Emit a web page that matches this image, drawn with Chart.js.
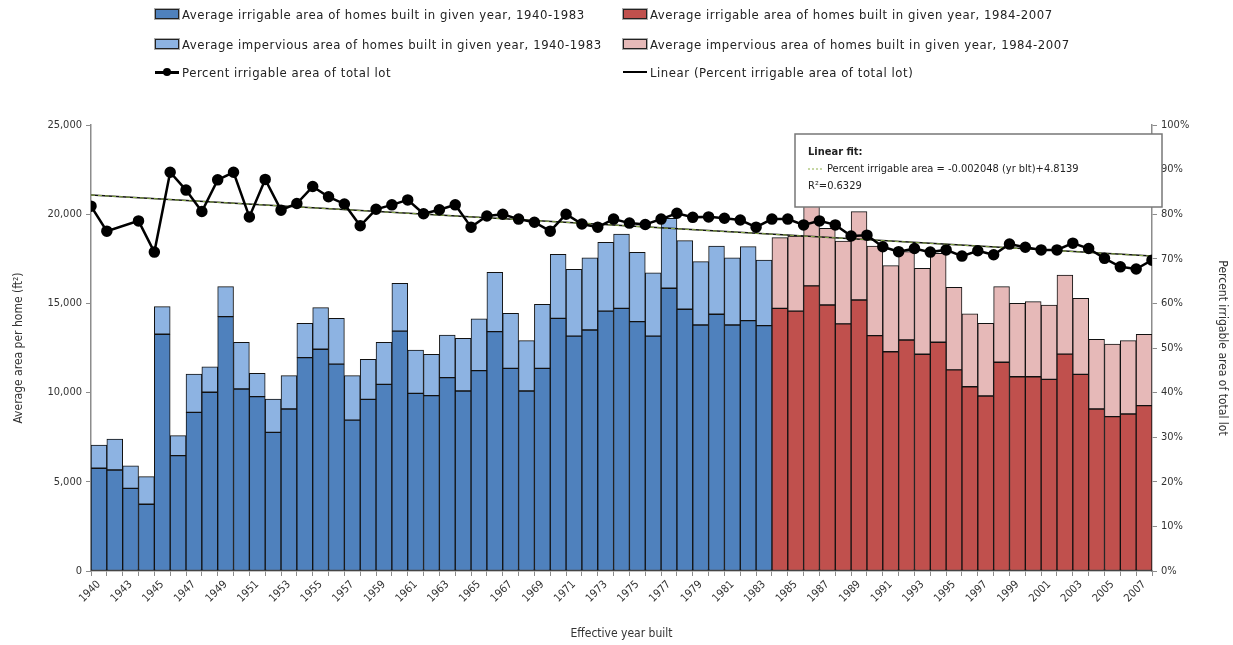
<!DOCTYPE html>
<html>
<head>
<meta charset="utf-8">
<script src="https://cdn.jsdelivr.net/npm/chart.js@4.4.1/dist/chart.umd.min.js"></script>
<style>
  html, body { margin: 0; padding: 0; background: #fff; }
  #wrap { position: relative; width: 1233px; height: 645px; }
  #legend { position: absolute; left: 0; top: 0; width: 1233px; height: 90px;
    font-family: 'Liberation Sans Narrow', 'DejaVu Sans Condensed', sans-serif; font-size: 13px;
    letter-spacing: 0.55px; color: #222; }
  .item { position: absolute; display: flex; align-items: center; white-space: nowrap; height: 16px; }
  .sw { width: 22px; height: 8px; border: 1px solid #222; box-shadow: 0 0 0 1px #aaa; margin-right: 3px; }
  .ln { position: relative; width: 24px; height: 10px; margin-right: 3px; }
  .ln i { position: absolute; left: 0; top: 4px; width: 24px; height: 2px; background: #000; }
  .ln b { position: absolute; left: 8px; top: 1px; width: 8px; height: 8px; border-radius: 50%; background: #000; }
</style>
</head>
<body>
<div id="wrap">
  <canvas id="chart" width="1233" height="645"></canvas>
  <div id="legend"></div>
</div>
<script>
// bar categories (one year absent from the survey data)
const barYears = ['1940','1941','1943','1944','1945','1946','1947','1948','1949','1950',
  '1951','1952','1953','1954','1955','1956','1957','1958','1959','1960',
  '1961','1962','1963','1964','1965','1966','1967','1968','1969','1970',
  '1971','1972','1973','1974','1975','1976','1977','1978','1979','1980',
  '1981','1982','1983',
  '1984','1985','1986','1987','1988','1989','1990','1991','1992','1993',
  '1994','1995','1996','1997','1998','1999','2000','2001','2002','2003',
  '2004','2005','2006','2007'];

// 1940-1983 (ft2)
const irrigableEarly = [5760,5660,4630,3740,13270,6470,8890,10020,14260,10200,
  9770,7770,9080,11960,12430,11600,8460,9620,10460,13450,
  9960,9830,10840,10090,11230,13420,11360,10090,11360,14160,
  13170,13510,14570,14720,13980,13170,15850,14670,13790,14390,
  13790,14030,13750];
const imperviousEarly = [1300,1740,1260,1550,1550,1120,2150,1430,1680,2620,
  1310,1870,1870,1920,2330,2560,2490,2250,2360,2680,
  2430,2320,2390,2950,2900,3320,3080,2820,3590,3590,
  3740,4050,3850,4170,3880,3550,3920,3850,3550,3830,
  3770,4150,3680];

// 1984-2007 (ft2)
const irrigableLate = [14720,14570,15980,14910,13850,15190,13190,12290,12950,12150,
  12820,11270,10330,9810,11700,10890,10890,10740,12160,11020,
  9080,8650,8800,9270];
const imperviousLate = [3970,4210,4920,4300,4650,4950,5030,4830,4950,4820,
  4990,4630,4080,4070,4240,4110,4210,4170,4430,4260,
  3910,4070,4110,4000];

// percent irrigable area of total lot, 1940..2007 (1942 missing)
const pctYears = [];
for (let y = 1940; y <= 2007; y++) pctYears.push(y);
const pctIrrigable = [81.8,76.2,null,78.5,71.5,89.4,85.4,80.6,87.7,89.4,
  79.4,87.8,80.9,82.4,86.2,83.9,82.3,77.4,81.1,82.1,
  83.2,80.1,81.0,82.1,77.1,79.6,80.0,78.9,78.2,76.2,
  80.0,77.8,77.1,78.9,78.0,77.7,78.9,80.2,79.3,79.4,
  79.1,78.7,77.1,78.9,78.9,77.6,78.5,77.6,75.1,75.3,
  72.7,71.6,72.3,71.5,72.0,70.6,71.8,70.9,73.3,72.6,
  72.0,72.0,73.5,72.3,70.1,68.2,67.7,69.7];

// linear fit end points (1940, 2007)
const trendYears = [1940, 2007];
const trendPct = [84.3, 70.6];

const nEarly = irrigableEarly.length;
const pad = (arr, before, total) => {
  const out = new Array(total).fill(null);
  arr.forEach((v, i) => { out[before + i] = v; });
  return out;
};
const N = barYears.length;

const colors = {
  blue: '#4F81BD', lightBlue: '#8DB3E2',
  red: '#C0504D', pink: '#E6B9B8',
  axis: '#8c8c8c', text: '#333', green: '#8DB04A'
};
const FONT = "'Liberation Sans Narrow', 'DejaVu Sans Condensed', sans-serif";

const labels = {
  irrE: 'Average irrigable area of homes built in given year, 1940-1983',
  irrL: 'Average irrigable area of homes built in given year, 1984-2007',
  impE: 'Average impervious area of homes built in given year, 1940-1983',
  impL: 'Average impervious area of homes built in given year, 1984-2007',
  pct: 'Percent irrigable area of total lot',
  lin: 'Linear (Percent irrigable area of total lot)'
};

// HTML legend, two columns
const legendItems = [
  { text: labels.irrE, kind: 'bar', color: colors.blue, x: 155, y: 6 },
  { text: labels.irrL, kind: 'bar', color: colors.red, x: 623, y: 6 },
  { text: labels.impE, kind: 'bar', color: colors.lightBlue, x: 155, y: 36 },
  { text: labels.impL, kind: 'bar', color: colors.pink, x: 623, y: 36 },
  { text: labels.pct, kind: 'marker', x: 155, y: 64 },
  { text: labels.lin, kind: 'line', x: 623, y: 64 }
];
const leg = document.getElementById('legend');
legendItems.forEach(it => {
  const d = document.createElement('div');
  d.className = 'item';
  d.style.left = it.x + 'px';
  d.style.top = it.y + 'px';
  let sw;
  if (it.kind === 'bar') {
    sw = '<span class="sw" style="background:' + it.color + '"></span>';
  } else if (it.kind === 'marker') {
    sw = '<span class="ln"><i style="height:3px;top:3.5px"></i><b></b></span>';
  } else {
    sw = '<span class="ln"><i style="height:1.5px"></i></span>';
  }
  d.innerHTML = sw + '<span>' + it.text + '</span>';
  leg.appendChild(d);
});

// fit annotation box
const fitBox = {
  id: 'fitBox',
  afterDatasetsDraw(chart) {
    const c = chart.ctx;
    c.save();
    c.fillStyle = '#fff';
    c.strokeStyle = '#777';
    c.lineWidth = 1.5;
    c.fillRect(795, 134, 367, 73);
    c.strokeRect(795, 134, 367, 73);
    c.fillStyle = '#222';
    c.font = "bold 11px " + FONT;
    c.textBaseline = 'middle';
    c.fillText('Linear fit:', 808, 152);
    c.font = "11px " + FONT;
    c.strokeStyle = colors.green;
    c.lineWidth = 1.2;
    c.setLineDash([2, 2]);
    c.beginPath(); c.moveTo(808, 169); c.lineTo(822, 169); c.stroke();
    c.setLineDash([]);
    c.fillText('Percent irrigable area = -0.002048 (yr blt)+4.8139', 827, 169);
    c.fillText('R\u00B2=0.6329', 808, 186);
    c.restore();
  }
};

const barCommon = {
  type: 'bar', stack: 'area', yAxisID: 'y', xAxisID: 'x',
  borderColor: '#111', borderWidth: 1, borderSkipped: false,
  barPercentage: 1, categoryPercentage: 1, grouped: false, order: 10
};

new Chart(document.getElementById('chart'), {
  type: 'bar',
  data: {
    labels: barYears,
    datasets: [
      Object.assign({}, barCommon, { label: labels.irrE, data: pad(irrigableEarly, 0, N), backgroundColor: colors.blue }),
      Object.assign({}, barCommon, { label: labels.irrL, data: pad(irrigableLate, nEarly, N), backgroundColor: colors.red }),
      Object.assign({}, barCommon, { label: labels.impE, data: pad(imperviousEarly, 0, N), backgroundColor: colors.lightBlue }),
      Object.assign({}, barCommon, { label: labels.impL, data: pad(imperviousLate, nEarly, N), backgroundColor: colors.pink }),
      {
        type: 'line', label: labels.lin, xAxisID: 'x2', yAxisID: 'y1', order: 3,
        data: trendYears.map((y, i) => ({ x: y, y: trendPct[i] })),
        borderColor: '#111', borderWidth: 1.5, pointRadius: 0, fill: false
      },
      {
        type: 'line', label: 'fit dash', xAxisID: 'x2', yAxisID: 'y1', order: 2,
        data: trendYears.map((y, i) => ({ x: y, y: trendPct[i] })),
        borderColor: colors.green, borderWidth: 1, borderDash: [4, 3], pointRadius: 0, fill: false
      },
      {
        type: 'line', label: labels.pct, xAxisID: 'x2', yAxisID: 'y1', order: 1,
        data: pctYears.map((y, i) => ({ x: y, y: pctIrrigable[i] })),
        borderColor: '#000', borderWidth: 2.5, spanGaps: true,
        pointRadius: 4.5, pointBackgroundColor: '#000', pointBorderColor: '#000',
        tension: 0, fill: false
      }
    ]
  },
  options: {
    responsive: false,
    animation: false,
    datasets: { bar: { barPercentage: 1, categoryPercentage: 1, grouped: false } },
    layout: { padding: { top: 125, left: 12, right: 0, bottom: 0 } },
    plugins: {
      legend: { display: false },
      tooltip: { enabled: false }
    },
    scales: {
      x: {
        type: 'category', offset: true, stacked: true,
        grid: { display: true, drawOnChartArea: false, offset: true, tickLength: 5, color: colors.axis },
        border: { color: colors.axis, width: 1.5 },
        ticks: {
          autoSkip: false, minRotation: 45, maxRotation: 45, padding: 2,
          color: colors.text, font: { family: FONT, size: 11 },
          callback: function(v, i) { return i % 2 === 0 ? this.getLabelForValue(v) : ''; }
        },
        title: { display: true, text: 'Effective year built', color: colors.text, font: { family: FONT, size: 12 }, padding: { top: 2, bottom: 4 } },
        afterFit(s) { s.height = 74; }
      },
      x2: {
        type: 'linear', display: false, min: 1940, max: 2007,
        offset: false, grid: { offset: false }, stacked: false
      },
      y: {
        position: 'left', stacked: true, min: 0, max: 25000,
        grid: { display: true, drawOnChartArea: false, tickLength: 5, color: colors.axis },
        border: { color: colors.axis, width: 1.5 },
        ticks: {
          stepSize: 5000, color: colors.text, font: { family: FONT, size: 11 }, padding: 4,
          callback: v => v.toLocaleString('en-US')
        },
        title: { display: true, text: 'Average area per home (ft\u00B2)', color: colors.text, font: { family: FONT, size: 12 }, padding: { top: 0, bottom: 4 } },
        afterFit(s) { s.width = 79; }
      },
      y1: {
        position: 'right', min: 0, max: 100, stacked: false,
        grid: { display: true, drawOnChartArea: false, tickLength: 5, color: colors.axis },
        border: { color: colors.axis, width: 1.5 },
        ticks: {
          stepSize: 10, color: colors.text, font: { family: FONT, size: 11 }, padding: 4,
          callback: v => v + '%'
        },
        title: { display: true, text: 'Percent irrigable area of total lot', color: colors.text, font: { family: FONT, size: 12 }, padding: { top: 4, bottom: 0 } },
        afterFit(s) { s.width = 81; }
      }
    }
  },
  plugins: [fitBox]
});
</script>
</body>
</html>
